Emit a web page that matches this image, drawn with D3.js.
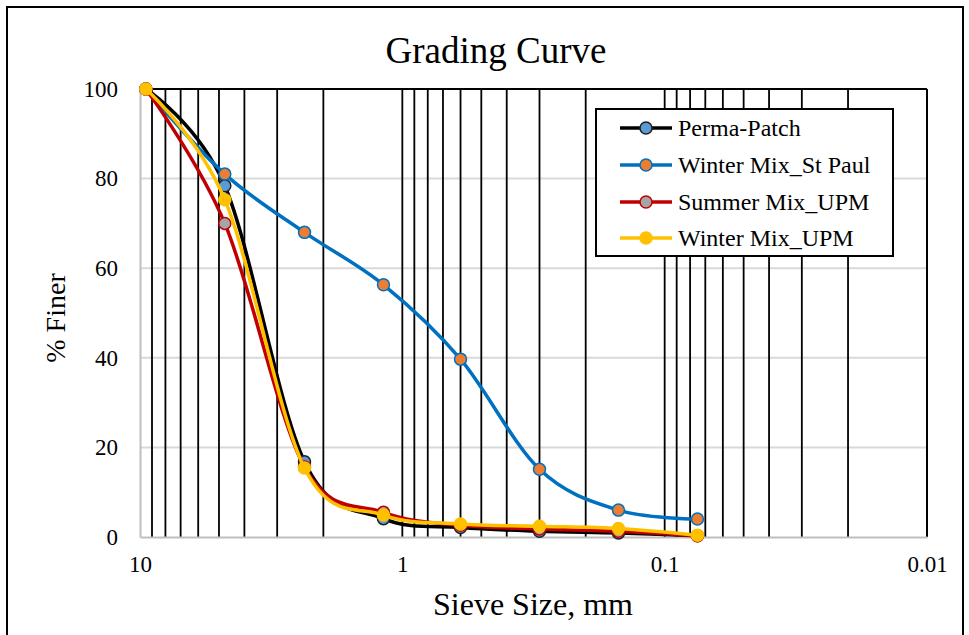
<!DOCTYPE html>
<html>
<head>
<meta charset="utf-8">
<script src="https://cdn.jsdelivr.net/npm/d3@7"></script>
<style>
  html, body { margin: 0; padding: 0; background: #fff; }
  svg { display: block; }
  text { font-family: "Liberation Serif", "Times New Roman", serif; fill: #000; }
</style>
</head>
<body>
<svg id="chart" width="969" height="635"></svg>
<script>
// ---- Data ----
const sieveSizes = [9.5, 4.75, 2.36, 1.18, 0.6, 0.3, 0.15, 0.075];
const seriesNames = ["Perma-Patch", "Winter Mix_St Paul", "Summer Mix_UPM", "Winter Mix_UPM"];
const permaPatch   = [100, 78.4, 16.8, 4.1, 2.1, 1.3, 0.9, 0.3];
const winterStPaul = [100, 81.0, 68.0, 56.3, 39.7, 15.1, 6.0, 4.0];
const summerUPM    = [100, 70.0, 15.6, 5.5, 2.6, 1.8, 1.3, 0.3];
const winterUPM    = [100, 75.3, 15.4, 4.9, 2.9, 2.4, 1.9, 0.4];
const xTickValues = [10, 1, 0.1, 0.01];
const xTickLabels = ["10", "1", "0.1", "0.01"];
const yTickValues = [0, 20, 40, 60, 80, 100];

const series = [
  { name: seriesNames[0], values: permaPatch,   line: "#000000", fill: "#5B9BD5", stroke: "#1f1f1f" },
  { name: seriesNames[1], values: winterStPaul, line: "#0070C0", fill: "#ED7D31", stroke: "#0070C0" },
  { name: seriesNames[2], values: summerUPM,    line: "#C00000", fill: "#A5A5A5", stroke: "#C00000" },
  { name: seriesNames[3], values: winterUPM,    line: "#FFC000", fill: "#FFC000", stroke: "#FFC000" }
];

// ---- Layout ----
const svg = d3.select("#chart");
const L = 140, R = 927, T = 89, B = 537;

const x = d3.scaleLog().domain([10, 0.01]).range([L, R]);
const y = d3.scaleLinear().domain([0, 100]).range([B, T]);

// outer chart border
svg.append("rect").attr("x", 7).attr("y", 7).attr("width", 956).attr("height", 640)
  .attr("fill", "#fff").attr("stroke", "#000").attr("stroke-width", 2);

// title
svg.append("text").attr("x", 496).attr("y", 63).attr("text-anchor", "middle")
  .attr("font-size", 37).text("Grading Curve");

// horizontal gridlines
svg.append("g").selectAll("line").data(yTickValues.filter(v => v > 0 && v < 100)).join("line")
  .attr("x1", L).attr("x2", R).attr("y1", d => y(d)).attr("y2", d => y(d))
  .attr("stroke", "#d9d9d9").attr("stroke-width", 2);

// vertical gridlines (log minor)
const vGrid = [];
for (const dec of [1, 0.1, 0.01]) {
  for (let k = 9; k >= 1; k--) vGrid.push(+(k * dec).toPrecision(3));
}
svg.append("g").selectAll("line").data(vGrid.filter(v => v < 10)).join("line")
  .attr("x1", d => x(d)).attr("x2", d => x(d)).attr("y1", T).attr("y2", B)
  .attr("stroke", "#000").attr("stroke-width", 1.8);

// plot border top/right black
svg.append("line").attr("x1", L).attr("x2", R).attr("y1", T).attr("y2", T)
  .attr("stroke", "#000").attr("stroke-width", 2);
svg.append("line").attr("x1", R).attr("x2", R).attr("y1", T).attr("y2", B)
  .attr("stroke", "#000").attr("stroke-width", 2);

// axes
const xAxis = svg.append("g").attr("transform", `translate(0,${B})`)
  .call(d3.axisBottom(x).tickValues(xTickValues).tickSize(0).tickPadding(19)
    .tickFormat((d, i) => xTickLabels[i]));
xAxis.select(".domain").attr("stroke", "#bfbfbf").attr("stroke-width", 2);
xAxis.selectAll("text").attr("font-size", 23).attr("font-family", "Liberation Serif");

const yAxis = svg.append("g").attr("transform", `translate(${L},0)`)
  .call(d3.axisLeft(y).tickValues(yTickValues).tickSize(0).tickPadding(22)
    .tickFormat(d3.format("d")));
yAxis.select(".domain").attr("stroke", "#bfbfbf").attr("stroke-width", 2);
yAxis.selectAll("text").attr("font-size", 23).attr("font-family", "Liberation Serif");

// axis titles
svg.append("text").attr("x", 533).attr("y", 615).attr("text-anchor", "middle")
  .attr("font-size", 32).text("Sieve Size, mm");
svg.append("text").attr("transform", "translate(65,318) rotate(-90)").attr("text-anchor", "middle")
  .attr("font-size", 28).text("% Finer");

// lines
const lineGen = d3.line()
  .x((d, i) => x(sieveSizes[i]))
  .y(d => y(d))
  .curve(d3.curveCatmullRom.alpha(0));

const gSeries = svg.append("g");
series.forEach(s => {
  const g = gSeries.append("g");
  g.append("path").attr("d", lineGen(s.values)).attr("fill", "none")
    .attr("stroke", s.line).attr("stroke-width", 3.5).attr("stroke-linejoin", "round");
  g.selectAll("circle").data(s.values).join("circle")
    .attr("cx", (d, i) => x(sieveSizes[i])).attr("cy", d => y(d)).attr("r", 6)
    .attr("fill", s.fill).attr("stroke", s.stroke).attr("stroke-width", 1.5);
});

// legend
const lg = svg.append("g");
lg.append("rect").attr("x", 596).attr("y", 109).attr("width", 297).attr("height", 147)
  .attr("fill", "#fff").attr("stroke", "#000").attr("stroke-width", 2);
const rowY = [128, 165, 202, 238];
series.forEach((s, i) => {
  const yy = rowY[i];
  lg.append("line").attr("x1", 620).attr("x2", 672).attr("y1", yy).attr("y2", yy)
    .attr("stroke", s.line).attr("stroke-width", 3.5);
  lg.append("circle").attr("cx", 646).attr("cy", yy).attr("r", 6)
    .attr("fill", s.fill).attr("stroke", s.stroke).attr("stroke-width", 1.5);
  lg.append("text").attr("x", 678).attr("y", yy + 8).attr("font-size", 24).text(s.name);
});
</script>
</body>
</html>
